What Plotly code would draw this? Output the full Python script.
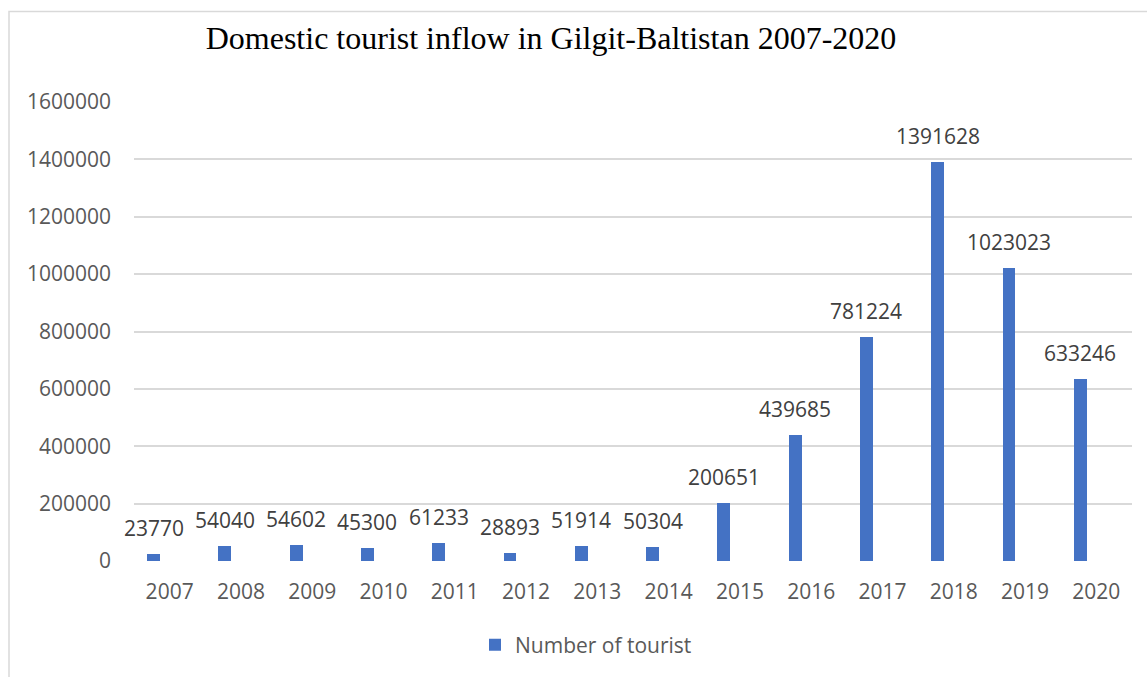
import plotly.graph_objects as go

years = ["2007", "2008", "2009", "2010", "2011", "2012", "2013", "2014",
         "2015", "2016", "2017", "2018", "2019", "2020"]
tourists = [23770, 54040, 54602, 45300, 61233, 28893, 51914, 50304,
            200651, 439685, 781224, 1391628, 1023023, 633246]
y_ticks = [0, 200000, 400000, 600000, 800000, 1000000, 1200000, 1400000, 1600000]

W, H = 1147, 677
L, R, T, B = 134, 15, 102, 116
plot_w = W - L - R
plot_h = H - T - B

BAR_W = 0.18
BAR_OFF = -0.315
bar_center_shift_px = (BAR_OFF + BAR_W / 2) * plot_w / len(years)

fig = go.Figure()
fig.add_trace(go.Bar(
    x=years, y=tourists, name="Number of tourist",
    marker=dict(color="#4472C4", line=dict(width=0)),
    width=BAR_W, offset=BAR_OFF,
))

annotations = []
for i, v in enumerate(tourists):
    annotations.append(dict(
        x=i, y=v, xref="x", yref="y", text=str(v), showarrow=False,
        xshift=bar_center_shift_px, yshift=26, yanchor="middle",
        font=dict(family="Open Sans", size=21, color="#404040"),
    ))

fig.update_layout(
    width=W, height=H,
    margin=dict(l=L, r=R, t=T, b=B),
    paper_bgcolor="white", plot_bgcolor="white",
    title=dict(
        text="Domestic tourist inflow in Gilgit-Baltistan 2007-2020",
        x=551 / W, xanchor="center", xref="container",
        y=1 - 38 / H, yanchor="middle", yref="container",
        font=dict(family="Liberation Serif", size=32, color="black"),
    ),
    xaxis=dict(
        type="category", range=[-0.5, len(years) - 0.5],
        showgrid=False, zeroline=False,
        showline=False, ticks="",
        tickfont=dict(family="Open Sans", size=21, color="#595959"),
        ticklabelstandoff=16,
    ),
    yaxis=dict(
        range=[0, 1600000], tickvals=y_ticks,
        ticktext=[str(t) for t in y_ticks],
        showgrid=True, gridcolor="#d9d9d9", gridwidth=1.5,
        zeroline=False, showline=False, ticks="",
        tickfont=dict(family="Open Sans", size=21, color="#595959"),
        ticklabelstandoff=22,
    ),
    showlegend=True,
    legend=dict(
        orientation="h", x=(586 - L) / plot_w, xanchor="center",
        y=(H - B - 645) / plot_h, yanchor="middle",
        font=dict(family="Open Sans", size=21, color="#595959"),
        bgcolor="rgba(0,0,0,0)",
    ),
    annotations=annotations,
    shapes=[dict(
        type="rect", xref="paper", yref="paper",
        x0=(9 - L) / plot_w, x1=1.2,
        y0=-0.6, y1=(H - B - 11.5) / plot_h,
        line=dict(color="#d9d9d9", width=1.5), fillcolor="rgba(0,0,0,0)",
        layer="below",
    )],
    bargap=0,
)

fig.write_html("out.html")
